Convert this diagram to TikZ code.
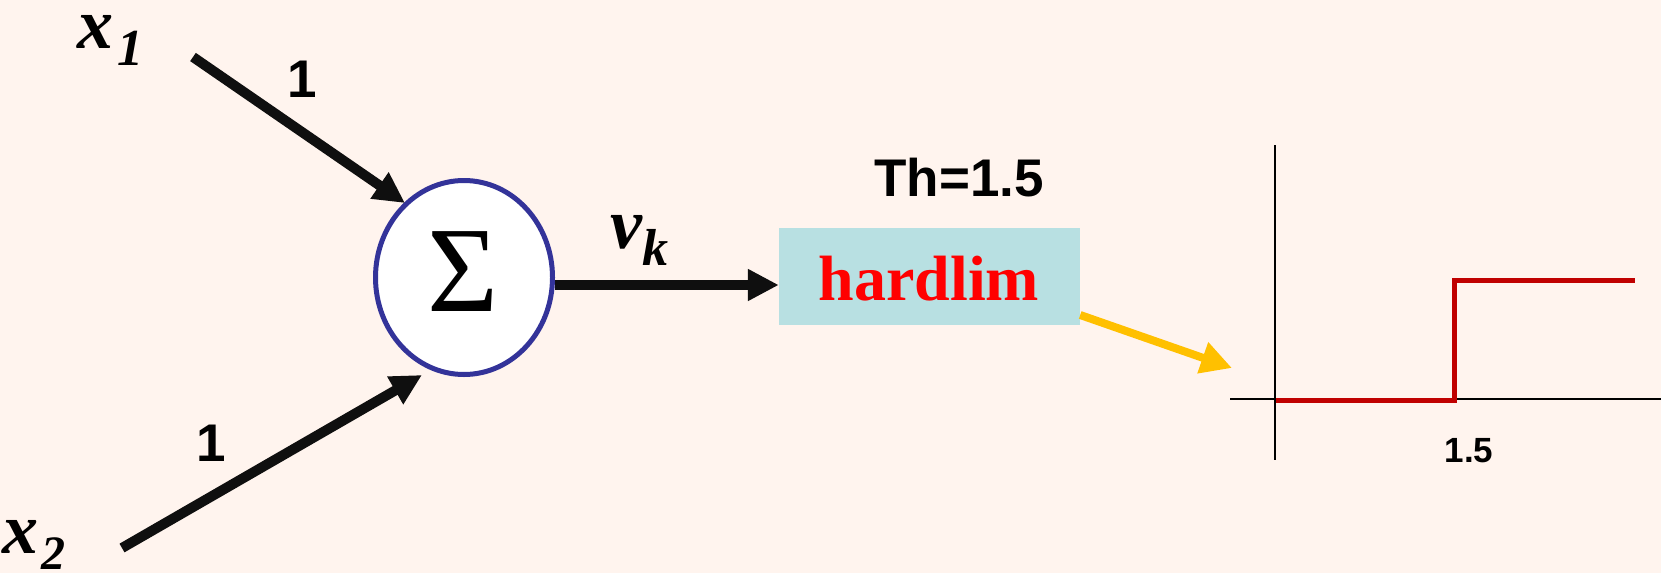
\documentclass[tikz,border=0pt]{standalone}
\usepackage{fontspec}
\setmainfont{Liberation Serif}
\setsansfont{Liberation Sans}
\usetikzlibrary{arrows.meta,shapes.geometric}
\definecolor{bg}{HTML}{FFF4EE}
\definecolor{ringblue}{HTML}{333399}
\definecolor{boxblue}{HTML}{B8E0E2}
\definecolor{arrowblack}{HTML}{0F0F0F}
\definecolor{gold}{HTML}{FFC000}
\definecolor{stepred}{HTML}{C00000}
\begin{document}
\begin{tikzpicture}[x=1pt,y=-1pt,
  bigarrow/.style={draw=arrowblack,line width=10pt,-{Triangle[length=31pt,width=30pt]}},
  goldarrow/.style={draw=gold,line width=8pt,-{Triangle[length=31pt,width=31pt]}},
  weight/.style={font=\sffamily\bfseries\fontsize{53}{53}\selectfont,inner sep=0pt},
  varlabel/.style={inner sep=0pt,anchor=base west},
  axisline/.style={draw=black,line width=2pt},
  steprline/.style={draw=stepred,line width=5pt,line join=miter}]
\useasboundingbox (0,0) rectangle (1661,573);
\fill[bg] (0,0) rectangle (1661,573);

% summation node
\node[ellipse,draw=ringblue,line width=5pt,fill=white,inner sep=0pt,
      minimum width=177pt,minimum height=194pt] (sum) at (464,277.5) {};
\node[inner sep=0pt,font=\fontsize{122}{122}\selectfont] (sigma) at (462.5,272) {Σ};

% hardlim box
\node[fill=boxblue,minimum width=301pt,minimum height=97pt,inner sep=0pt] (box) at (929.5,276.5) {};
\node[inner sep=0pt,anchor=base,text=red,font=\bfseries\fontsize{64}{64}\selectfont] (hl) at (929,300) {hardlim};
\node[inner sep=0pt,font=\sffamily\bfseries\fontsize{53}{53}\selectfont] (th) at (959,178) {Th=1.5};

% inputs
\coordinate (s1) at (193,57);
\coordinate (t1) at (405,203);
\coordinate (s2) at (122,548);
\coordinate (t2) at (422,375);
\draw[bigarrow] (s1) -- (t1);
\draw[bigarrow] (s2) -- (t2);
\node[weight] (w1) at (302,79) {1};
\node[weight] (w2) at (211,443) {1};

\node[varlabel] (x1) at (77,48) {{\fontsize{72}{72}\selectfont\bfseries\itshape x}\kern4pt\raisebox{-17pt}{\fontsize{52}{52}\selectfont\bfseries\itshape 1}};
\node[varlabel] (x2) at (2,553) {{\fontsize{72}{72}\selectfont\bfseries\itshape x}\kern3pt\raisebox{-16pt}{\fontsize{48}{48}\selectfont\bfseries\itshape 2}};

% output of sum
\draw[bigarrow] ([yshift=-7.5pt]sum.east) -- ([yshift=-8.5pt]box.west);
\node[varlabel] (vk) at (610,248) {{\fontsize{72}{72}\selectfont\bfseries\itshape v}\raisebox{-17pt}{\fontsize{52}{52}\selectfont\bfseries\itshape k}};

% arrow to plot
\coordinate (t3) at (1232,368);
\draw[goldarrow] ([yshift=-38.5pt]box.east) -- (t3);

% step plot
\draw[axisline] (1275,145) -- (1275,460);
\draw[axisline] (1230,399) -- (1661,399);
\draw[steprline] (1276,400) -- (1454,400) -- (1454,280) -- (1635,280);
\node[inner sep=0pt,font=\sffamily\bfseries\fontsize{35}{35}\selectfont] (tick) at (1469,451) {1.5};
\end{tikzpicture}
\end{document}
